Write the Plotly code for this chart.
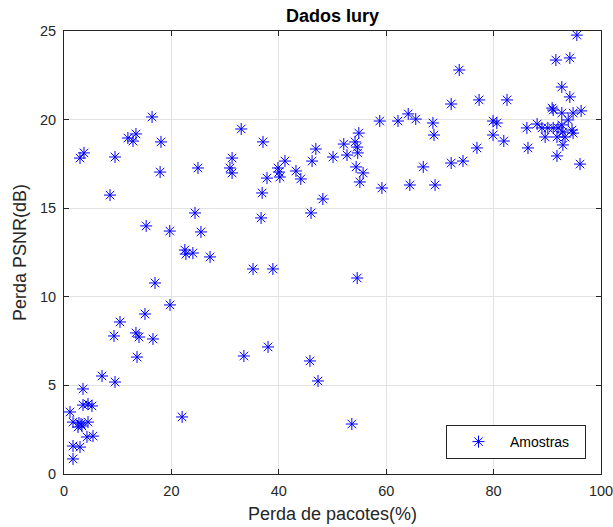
import plotly.graph_objects as go

# Packet loss (%) vs PSNR loss (dB) samples
perda_pacotes = [
    3.54, 3.54, 4.47, 5.21, 1.12, 1.68, 2.79, 4.47, 3.35, 2.61, 3.17, 4.28, 5.40,
    1.68, 2.98, 1.68, 7.08, 9.50, 13.6, 9.31, 13.4, 13.97, 16.57, 10.43, 15.08,
    19.74, 16.95, 22.5, 22.7, 24.0, 27.2, 35.2, 38.9, 54.6, 22.0, 33.5, 38.0,
    45.8, 47.3, 53.6,
    16.4, 33.0, 11.9, 13.4, 12.85, 18.06, 2.98, 3.72, 9.50, 17.9, 24.95, 31.3,
    30.9, 31.3, 8.57, 24.4, 15.3, 19.7, 25.5, 37.06, 46.9, 41.15, 39.85, 40.04,
    40.2, 37.8, 43.2, 44.1, 46.2, 36.9, 36.7, 46.0, 48.2, 50.1, 52.1, 52.7,
    54.2, 54.9, 54.6, 54.7, 54.4, 55.7, 55.1, 58.8, 62.2, 64.1, 65.5, 68.7,
    68.9, 66.9, 59.2, 64.4, 69.1,
    95.5, 91.6, 94.2, 73.6, 92.7, 94.2, 72.1, 77.3, 82.5, 90.9, 91.1, 92.7,
    94.8, 96.3, 79.9, 80.6, 79.9, 81.9, 76.9, 74.3, 72.1,
    86.2, 86.4, 88.1, 89.0, 89.6, 90.1, 91.1, 91.8, 92.0, 92.7, 92.9, 93.3,
    93.9, 94.6, 94.8, 92.9, 91.8, 96.1,
]
perda_psnr = [
    4.80, 3.89, 3.95, 3.84, 3.50, 2.93, 2.88, 2.93, 2.71, 2.65, 2.82, 2.09, 2.14,
    1.58, 1.52, 0.85, 5.53, 5.19, 6.60, 7.79, 7.96, 7.73, 7.62, 8.58, 9.03,
    9.54, 10.78, 12.64, 12.41, 12.47, 12.25, 11.57, 11.57, 11.06, 3.22, 6.66, 7.17,
    6.38, 5.25, 2.82,
    20.15, 19.47, 18.96, 19.19, 18.79, 18.74, 17.83, 18.12, 17.89, 17.04, 17.27, 17.83,
    17.27, 16.99, 15.74, 14.73, 14.0, 13.71, 13.66, 18.74, 18.34, 17.66, 17.27, 17.04,
    16.76, 16.70, 17.10, 16.65, 17.66, 15.86, 14.45, 14.73, 15.52, 17.89, 18.62, 18.0,
    18.74, 19.24, 18.45, 18.12, 17.33, 16.99, 16.48, 19.92, 19.92, 20.32, 20.03, 19.81,
    19.13, 17.33, 16.14, 16.31, 16.31,
    24.77, 23.36, 23.48, 22.8, 21.84, 21.28, 20.88, 21.11, 21.11, 20.65, 20.54, 20.37,
    20.37, 20.49, 19.92, 19.81, 19.13, 18.79, 18.40, 17.66, 17.55,
    19.53, 18.40, 19.75, 19.53, 19.02, 19.53, 19.53, 19.02, 19.53, 19.70, 19.30, 19.02,
    19.98, 19.41, 19.24, 18.57, 17.95, 17.49,
]

x_ticks = [0, 20, 40, 60, 80, 100]
y_ticks = [0, 5, 10, 15, 20, 25]

axis_color = "#262626"
grid_color = "#e3e3e3"
font_family = "Liberation Sans, Arial, sans-serif"

fig = go.Figure()
fig.add_trace(go.Scatter(
    x=perda_pacotes,
    y=perda_psnr,
    mode="markers",
    name="Amostras",
    marker=dict(
        symbol="asterisk-open",
        size=10,
        color="#0000ff",
        line=dict(color="#0000ff", width=1),
    ),
))

axis_common = dict(
    showline=True,
    linecolor=axis_color,
    linewidth=1,
    mirror="ticks",
    ticks="inside",
    ticklen=5,
    tickcolor=axis_color,
    showgrid=True,
    gridcolor=grid_color,
    gridwidth=1,
    zeroline=False,
    automargin=False,
    ticklabeloverflow="allow",
    ticklabelstandoff=4,
    tickfont=dict(size=14.5, color=axis_color, family=font_family),
)

fig.update_layout(
    width=613,
    height=527,
    paper_bgcolor="white",
    plot_bgcolor="white",
    margin=dict(l=64, r=12, t=31, b=53),
    title=dict(
        text="<b>Dados Iury</b>",
        x=(64 + 601) / 2 / 613,
        xanchor="center",
        y=1 - 9 / 527,
        yanchor="top",
        font=dict(size=18, color="black", family=font_family),
    ),
    xaxis=dict(
        range=[0, 100],
        tickvals=x_ticks,
        title=dict(text="Perda de pacotes(%)", font=dict(size=18, color=axis_color, family=font_family), standoff=8),
        **axis_common,
    ),
    yaxis=dict(
        range=[0, 25],
        tickvals=y_ticks,
        title=dict(text="Perda PSNR(dB)", font=dict(size=18, color=axis_color, family=font_family), standoff=8),
        **axis_common,
    ),
    showlegend=True,
    legend=dict(
        orientation="h",
        x=(586 - 64) / 537,
        y=(474 - 459) / 443,
        xanchor="right",
        yanchor="bottom",
        bgcolor="white",
        bordercolor=axis_color,
        borderwidth=1,
        font=dict(size=14, color="black", family=font_family),
        itemwidth=53,
        entrywidth=70,
        tracegroupgap=0,
    ),
)

fig.write_html("out.html")
